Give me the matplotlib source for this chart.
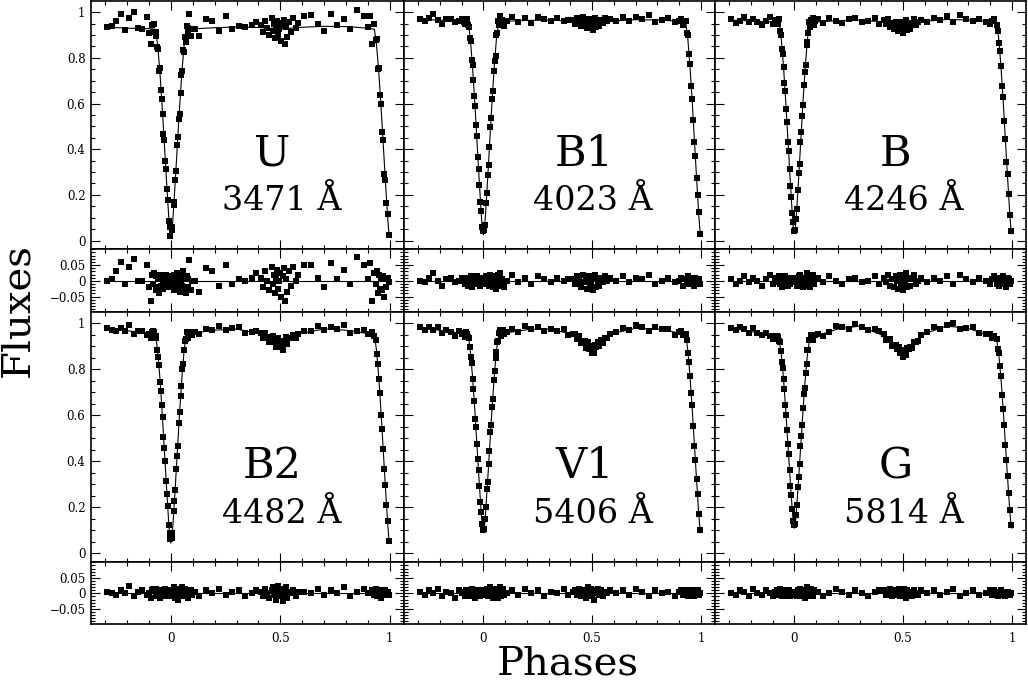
import matplotlib
matplotlib.use('Agg')
import matplotlib.pyplot as plt
from matplotlib.ticker import MultipleLocator, FixedLocator

plt.rcParams['font.family'] = ['DejaVu Serif', 'DejaVu Sans']

# observation phases (shared by all filters)
OBS_PHASE = [
    -0.29, -0.27, -0.25, -0.23, -0.21, -0.19, -0.17, -0.15, -0.13, -0.11, -0.10, -0.09, -0.085, -0.08,
    -0.075, -0.07, -0.066, -0.062, -0.058, -0.054, -0.05, -0.046, -0.042, -0.038, -0.034, -0.03, -0.026,
    -0.022, -0.018, -0.014, -0.01, -0.006, -0.003,
    0.003, 0.007, 0.012, 0.016, 0.02, 0.024, 0.028, 0.032, 0.036, 0.04, 0.044, 0.048, 0.052, 0.056, 0.06,
    0.064, 0.068, 0.072, 0.076, 0.08, 0.085, 0.09, 0.095,
    0.11, 0.13, 0.16, 0.19, 0.22, 0.25, 0.28, 0.31, 0.34, 0.37, 0.39,
    0.41, 0.42, 0.43, 0.44, 0.45, 0.46, 0.465, 0.47, 0.475, 0.48, 0.485, 0.49, 0.495, 0.50, 0.505, 0.51,
    0.515, 0.52, 0.525, 0.53, 0.54, 0.55, 0.56, 0.57, 0.58,
    0.61, 0.64, 0.67, 0.70, 0.73, 0.76, 0.79, 0.82, 0.85, 0.88, 0.90,
    0.91, 0.92, 0.93, 0.935, 0.94, 0.945, 0.95, 0.955, 0.96, 0.965, 0.97, 0.975, 0.98, 0.985, 0.99, 0.997,
]

MODEL_PHASE = [-0.30, -0.20, -0.10, -0.07, -0.06, -0.05, -0.04, -0.03, -0.02, -0.01, -0.005, 0.0,
               0.005, 0.01, 0.02, 0.03, 0.04, 0.05, 0.06, 0.07, 0.10, 0.20, 0.30, 0.40, 0.45, 0.50,
               0.55, 0.60, 0.70, 0.80, 0.90, 0.93, 0.94, 0.95, 0.96, 0.97, 0.98, 0.99, 0.995, 1.0]

BANDS = ['U', 'B1', 'B', 'B2', 'V1', 'G']
WAVELENGTHS = ['3471 Å', '4023 Å', '4246 Å', '4482 Å', '5406 Å', '5814 Å']

MODEL_U = [0.935, 0.930, 0.928, 0.925, 0.852, 0.734, 0.588, 0.425, 0.261, 0.106, 0.042, 0.015,
           0.042, 0.106, 0.261, 0.425, 0.588, 0.734, 0.852, 0.925, 0.927, 0.932, 0.935, 0.933, 0.930,
           0.926, 0.930, 0.934, 0.938, 0.937, 0.930, 0.925, 0.852, 0.734, 0.588, 0.425, 0.261, 0.106,
           0.042, 0.015]
MODEL_B1 = [0.968, 0.965, 0.960, 0.958, 0.883, 0.762, 0.613, 0.445, 0.277, 0.118, 0.053, 0.025,
            0.053, 0.118, 0.277, 0.445, 0.613, 0.762, 0.883, 0.958, 0.960, 0.964, 0.965, 0.962, 0.958,
            0.954, 0.958, 0.962, 0.967, 0.966, 0.960, 0.958, 0.883, 0.762, 0.613, 0.445, 0.277, 0.118,
            0.053, 0.025]
MODEL_B = [0.965, 0.962, 0.957, 0.955, 0.881, 0.761, 0.613, 0.446, 0.280, 0.122, 0.058, 0.030,
           0.058, 0.122, 0.280, 0.446, 0.613, 0.761, 0.881, 0.955, 0.957, 0.963, 0.965, 0.958, 0.948,
           0.938, 0.948, 0.960, 0.968, 0.966, 0.958, 0.955, 0.881, 0.761, 0.613, 0.446, 0.280, 0.122,
           0.058, 0.030]
MODEL_B2 = [0.975, 0.968, 0.955, 0.950, 0.878, 0.760, 0.615, 0.452, 0.289, 0.135, 0.072, 0.045,
            0.072, 0.135, 0.289, 0.452, 0.615, 0.760, 0.878, 0.950, 0.957, 0.970, 0.975, 0.955, 0.935,
            0.905, 0.935, 0.958, 0.975, 0.970, 0.955, 0.950, 0.878, 0.760, 0.615, 0.452, 0.289, 0.135,
            0.072, 0.045]
MODEL_V1 = [0.978, 0.970, 0.955, 0.950, 0.881, 0.769, 0.632, 0.477, 0.322, 0.176, 0.116, 0.090,
            0.116, 0.176, 0.322, 0.477, 0.632, 0.769, 0.881, 0.950, 0.958, 0.972, 0.975, 0.955, 0.925,
            0.882, 0.925, 0.957, 0.978, 0.975, 0.958, 0.952, 0.883, 0.771, 0.633, 0.478, 0.323, 0.176,
            0.116, 0.090]
MODEL_G = [0.982, 0.965, 0.942, 0.930, 0.864, 0.758, 0.627, 0.479, 0.331, 0.192, 0.135, 0.110,
           0.135, 0.192, 0.331, 0.479, 0.627, 0.758, 0.864, 0.930, 0.945, 0.975, 0.988, 0.950, 0.910,
           0.865, 0.910, 0.955, 0.988, 0.978, 0.945, 0.932, 0.866, 0.759, 0.628, 0.480, 0.332, 0.192,
           0.135, 0.110]

FLUX_U = [
    0.935, 0.939, 0.963, 0.992, 0.921, 0.975, 0.999, 0.929, 0.928, 0.978, 0.908, 0.862, 0.946, 0.915,
    0.950, 0.895, 0.913, 0.847, 0.839, 0.741, 0.754, 0.661, 0.622, 0.556, 0.465, 0.440, 0.349, 0.313,
    0.225, 0.178, 0.086, 0.060, 0.021,
    0.046, 0.058, 0.157, 0.169, 0.266, 0.306, 0.417, 0.452, 0.533, 0.553, 0.647, 0.725, 0.743, 0.835,
    0.827, 0.891, 0.870, 0.940, 0.905, 0.930, 0.991, 0.896, 0.927,
    0.928, 0.894, 0.971, 0.962, 0.918, 0.984, 0.925, 0.940, 0.934, 0.943, 0.958,
    0.942, 0.912, 0.961, 0.931, 0.900, 0.974, 0.919, 0.948, 0.888, 0.937, 0.962, 0.901, 0.926, 0.951,
    0.876, 0.941, 0.967, 0.862, 0.933, 0.893, 0.959, 0.915, 0.976, 0.932, 0.953,
    0.984, 0.986, 0.947, 0.918, 0.993, 0.943, 0.972, 0.926, 1.009, 0.982, 0.935,
    0.983, 0.861, 0.950, 0.879, 0.882, 0.753, 0.754, 0.636, 0.598, 0.476, 0.440, 0.293, 0.266, 0.163,
    0.116, 0.024,
]
RESID_U = [
    0.000, 0.005, 0.030, 0.060, -0.010, 0.045, 0.070, 0.000, 0.000, 0.050, -0.020, -0.065, 0.020, -0.010,
    0.025, -0.030, 0.015, -0.020, 0.010, -0.040, 0.020, -0.015, 0.005, 0.000, -0.025, 0.015, -0.010,
    0.020, -0.005, 0.010, -0.020, 0.005, -0.010,
    0.015, -0.010, 0.020, -0.030, 0.005, -0.020, 0.025, -0.005, 0.010, -0.035, 0.000, 0.020, -0.015,
    0.030, -0.025, 0.010, -0.040, 0.015, -0.020, 0.005, 0.065, -0.030, 0.000,
    0.000, -0.035, 0.040, 0.030, -0.015, 0.050, -0.010, 0.005, 0.000, 0.010, 0.025,
    0.010, -0.020, 0.030, 0.000, -0.030, 0.045, -0.010, 0.020, -0.040, 0.010, 0.035, -0.025, 0.000,
    0.025, -0.050, 0.015, 0.040, -0.065, 0.005, -0.035, 0.030, -0.015, 0.045, 0.000, 0.020,
    0.050, 0.050, 0.010, -0.020, 0.055, 0.005, 0.035, -0.010, 0.075, 0.050, 0.005,
    0.055, -0.065, 0.025, -0.010, 0.030, -0.040, 0.020, -0.025, 0.010, -0.030, 0.015, -0.050, 0.005,
    -0.020, 0.010, -0.005,
]

FLUX_B1 = [
    0.968, 0.962, 0.976, 0.991, 0.965, 0.949, 0.968, 0.972, 0.956, 0.960, 0.970, 0.959, 0.949, 0.963,
    0.968, 0.943, 0.935, 0.888, 0.874, 0.791, 0.767, 0.702, 0.633, 0.589, 0.507, 0.460, 0.368, 0.315,
    0.245, 0.167, 0.128, 0.061, 0.042,
    0.047, 0.069, 0.165, 0.208, 0.287, 0.329, 0.411, 0.498, 0.536, 0.618, 0.653, 0.742, 0.786, 0.810,
    0.898, 0.908, 0.963, 0.943, 0.983, 0.948, 0.964, 0.959, 0.940,
    0.960, 0.981, 0.957, 0.973, 0.954, 0.980, 0.970, 0.960, 0.974, 0.963, 0.967,
    0.966, 0.950, 0.974, 0.958, 0.938, 0.977, 0.952, 0.966, 0.931, 0.960, 0.970, 0.939, 0.954, 0.964,
    0.924, 0.959, 0.975, 0.935, 0.956, 0.941, 0.967, 0.953, 0.974, 0.960, 0.971,
    0.963, 0.980, 0.961, 0.977, 0.972, 0.987, 0.956, 0.965, 0.973, 0.956, 0.960,
    0.969, 0.943, 0.963, 0.911, 0.898, 0.818, 0.772, 0.677, 0.618, 0.529, 0.430, 0.371, 0.272, 0.198,
    0.123, 0.029,
]
RESID_B1 = [
    0.000, -0.005, 0.010, 0.025, 0.000, -0.015, 0.005, 0.010, -0.005, 0.000, 0.010, 0.000, -0.010, 0.005,
    0.010, -0.015, 0.005, -0.010, 0.015, -0.020, 0.005, 0.000, -0.010, 0.010, -0.005, 0.015, -0.010,
    0.005, 0.000, -0.015, 0.010, -0.005, 0.000,
    0.005, -0.010, 0.015, -0.005, 0.010, -0.015, 0.000, 0.020, -0.010, 0.005, -0.020, 0.010, 0.000,
    -0.025, 0.015, -0.005, 0.020, -0.015, 0.025, -0.010, 0.005, 0.000, -0.020,
    0.000, 0.020, -0.005, 0.010, -0.010, 0.015, 0.005, -0.005, 0.010, 0.000, 0.005,
    0.005, -0.010, 0.015, 0.000, -0.020, 0.020, -0.005, 0.010, -0.025, 0.005, 0.015, -0.015, 0.000,
    0.010, -0.030, 0.005, 0.020, -0.020, 0.000, -0.015, 0.010, -0.005, 0.015, 0.000, 0.010,
    0.000, 0.015, -0.005, 0.010, 0.005, 0.020, -0.010, 0.000, 0.010, -0.005, 0.000,
    0.010, -0.015, 0.005, -0.010, 0.015, -0.005, 0.010, -0.010, 0.005, 0.000, -0.015, 0.010, -0.005,
    0.000, 0.005, -0.010,
]

FLUX_B = [
    0.970, 0.954, 0.963, 0.977, 0.956, 0.970, 0.959, 0.943, 0.962, 0.977, 0.947, 0.956, 0.966, 0.950,
    0.950, 0.970, 0.917, 0.901, 0.837, 0.819, 0.761, 0.692, 0.657, 0.574, 0.518, 0.431, 0.390, 0.313,
    0.238, 0.190, 0.122, 0.081, 0.042,
    0.047, 0.094, 0.139, 0.222, 0.295, 0.336, 0.433, 0.475, 0.546, 0.593, 0.682, 0.736, 0.770, 0.858,
    0.871, 0.911, 0.955, 0.935, 0.965, 0.950, 0.976, 0.946, 0.962,
    0.968, 0.954, 0.976, 0.963, 0.954, 0.970, 0.975, 0.959, 0.962, 0.975, 0.948,
    0.967, 0.950, 0.972, 0.935, 0.953, 0.925, 0.959, 0.942, 0.916, 0.950, 0.959, 0.929, 0.943, 0.908,
    0.953, 0.939, 0.965, 0.921, 0.952, 0.928, 0.951, 0.968, 0.942, 0.955, 0.967,
    0.956, 0.974, 0.966, 0.983, 0.958, 0.988, 0.972, 0.960, 0.972, 0.959, 0.948,
    0.962, 0.971, 0.945, 0.918, 0.866, 0.831, 0.766, 0.677, 0.628, 0.524, 0.446, 0.343, 0.290, 0.206,
    0.112, 0.044,
]
RESID_B = [
    0.005, -0.010, 0.000, 0.015, -0.005, 0.010, 0.000, -0.015, 0.005, 0.020, -0.010, 0.000, 0.010, -0.005,
    -0.005, 0.015, -0.010, 0.005, -0.020, 0.010, 0.000, -0.010, 0.015, -0.005, 0.005, -0.015, 0.010,
    0.000, -0.010, 0.005, 0.000, 0.010, -0.005,
    0.000, 0.010, -0.015, 0.005, 0.015, -0.010, 0.020, -0.005, 0.000, -0.020, 0.010, 0.005, -0.015,
    0.025, -0.010, 0.000, 0.015, -0.020, 0.010, -0.005, 0.020, -0.010, 0.005,
    0.010, -0.005, 0.015, 0.000, -0.010, 0.005, 0.010, -0.005, 0.000, 0.015, -0.010,
    0.010, -0.005, 0.020, -0.015, 0.005, -0.020, 0.015, 0.000, -0.025, 0.010, 0.020, -0.010, 0.005,
    -0.030, 0.015, 0.000, 0.025, -0.020, 0.010, -0.015, 0.005, 0.020, -0.010, 0.000, 0.010,
    -0.005, 0.010, 0.000, 0.015, -0.010, 0.020, 0.005, -0.005, 0.010, 0.000, -0.010,
    0.005, 0.015, -0.010, 0.000, -0.015, 0.010, 0.005, -0.010, 0.015, -0.005, 0.000, -0.020, 0.010,
    0.005, -0.010, 0.000,
]

FLUX_B2 = [
    0.979, 0.972, 0.966, 0.979, 0.968, 0.991, 0.953, 0.966, 0.968, 0.951, 0.955, 0.938, 0.962, 0.965,
    0.960, 0.945, 0.938, 0.882, 0.854, 0.817, 0.745, 0.707, 0.644, 0.593, 0.507, 0.457, 0.402, 0.317,
    0.259, 0.207, 0.125, 0.090, 0.061,
    0.066, 0.087, 0.186, 0.228, 0.274, 0.365, 0.425, 0.465, 0.565, 0.615, 0.683, 0.726, 0.803, 0.821,
    0.883, 0.922, 0.931, 0.961, 0.936, 0.957, 0.953, 0.964, 0.950,
    0.963, 0.952, 0.976, 0.969, 0.987, 0.969, 0.980, 0.983, 0.958, 0.963, 0.968,
    0.956, 0.937, 0.958, 0.939, 0.920, 0.939, 0.946, 0.918, 0.930, 0.897, 0.919, 0.936, 0.898, 0.905,
    0.923, 0.886, 0.924, 0.912, 0.940, 0.908, 0.934, 0.935, 0.950, 0.934, 0.954,
    0.967, 0.968, 0.987, 0.970, 0.984, 0.973, 0.991, 0.958, 0.968, 0.972, 0.955,
    0.953, 0.961, 0.945, 0.929, 0.868, 0.824, 0.760, 0.698, 0.600, 0.539, 0.452, 0.366, 0.299, 0.212,
    0.140, 0.054,
]
RESID_B2 = [
    0.005, 0.000, -0.005, 0.010, 0.000, 0.025, -0.010, 0.005, 0.010, -0.005, 0.000, -0.015, 0.010, 0.015,
    0.010, -0.005, 0.015, -0.010, 0.000, 0.010, -0.015, 0.005, 0.000, 0.010, -0.010, 0.005, 0.015,
    -0.005, 0.000, 0.010, -0.010, 0.005, 0.000,
    0.005, -0.010, 0.020, 0.000, -0.015, 0.010, 0.005, -0.020, 0.015, 0.000, 0.010, -0.005, 0.020,
    -0.010, 0.005, 0.015, -0.005, 0.010, -0.015, 0.005, 0.000, 0.010, -0.005,
    0.005, -0.010, 0.010, 0.000, 0.015, -0.005, 0.005, 0.010, -0.010, 0.000, 0.010,
    0.005, -0.010, 0.015, 0.000, -0.015, 0.010, 0.020, -0.005, 0.010, -0.020, 0.005, 0.025, -0.010,
    0.000, 0.015, -0.025, 0.010, -0.005, 0.020, -0.015, 0.005, 0.000, 0.010, -0.010, 0.005,
    0.005, 0.000, 0.015, -0.005, 0.010, 0.000, 0.020, -0.010, 0.005, 0.015, 0.000,
    0.000, 0.010, -0.005, 0.015, -0.010, 0.005, 0.000, 0.010, -0.015, 0.005, 0.000, -0.005, 0.010,
    0.000, 0.005, -0.005,
]

FLUX_V1 = [
    0.982, 0.970, 0.983, 0.971, 0.984, 0.957, 0.969, 0.961, 0.943, 0.966, 0.955, 0.958, 0.942, 0.960,
    0.955, 0.940, 0.934, 0.895, 0.854, 0.829, 0.759, 0.714, 0.664, 0.586, 0.549, 0.477, 0.410, 0.363,
    0.293, 0.224, 0.181, 0.128, 0.100,
    0.105, 0.150, 0.200, 0.279, 0.312, 0.389, 0.446, 0.528, 0.560, 0.637, 0.672, 0.752, 0.792, 0.851,
    0.876, 0.919, 0.921, 0.956, 0.972, 0.943, 0.954, 0.970, 0.952,
    0.960, 0.975, 0.964, 0.987, 0.974, 0.985, 0.965, 0.977, 0.966, 0.975, 0.950,
    0.954, 0.953, 0.932, 0.946, 0.915, 0.917, 0.922, 0.892, 0.908, 0.919, 0.889, 0.890, 0.901, 0.872,
    0.891, 0.870, 0.904, 0.899, 0.918, 0.902, 0.926, 0.915, 0.937, 0.938, 0.954,
    0.962, 0.980, 0.971, 0.993, 0.983, 0.967, 0.986, 0.973, 0.973, 0.951, 0.963,
    0.966, 0.949, 0.952, 0.928, 0.873, 0.832, 0.771, 0.697, 0.643, 0.555, 0.468, 0.405, 0.323, 0.259,
    0.171, 0.103,
]
RESID_V1 = [
    0.005, -0.005, 0.010, 0.000, 0.015, -0.010, 0.005, 0.000, -0.015, 0.010, 0.000, 0.005, -0.010, 0.010,
    0.005, -0.010, 0.010, 0.000, -0.005, 0.015, -0.010, 0.000, 0.005, -0.015, 0.010, 0.000, -0.005,
    0.010, 0.000, -0.010, 0.005, 0.000, -0.005,
    0.000, 0.010, -0.005, 0.015, -0.010, 0.005, 0.000, 0.020, -0.010, 0.005, -0.015, 0.010, 0.000,
    0.015, -0.005, 0.010, -0.015, 0.005, 0.020, -0.010, 0.000, 0.015, -0.005,
    0.000, 0.010, -0.005, 0.015, 0.000, 0.010, -0.010, 0.005, 0.000, 0.015, -0.005,
    0.005, 0.010, -0.005, 0.015, -0.010, 0.000, 0.010, -0.015, 0.005, 0.020, -0.005, 0.000, 0.015,
    -0.010, 0.005, -0.020, 0.010, 0.000, 0.015, -0.005, 0.010, -0.010, 0.005, 0.000, 0.010,
    0.000, 0.010, -0.005, 0.015, 0.005, -0.010, 0.010, 0.000, 0.005, -0.010, 0.005,
    0.010, -0.005, 0.000, 0.010, -0.010, 0.005, 0.000, -0.005, 0.010, 0.000, -0.010, 0.005, 0.000,
    0.010, -0.005, 0.000,
]

FLUX_G = [
    0.980, 0.972, 0.984, 0.975, 0.957, 0.978, 0.958, 0.949, 0.959, 0.944, 0.932, 0.943, 0.931, 0.944,
    0.940, 0.925, 0.920, 0.878, 0.833, 0.805, 0.758, 0.715, 0.643, 0.602, 0.538, 0.474, 0.430, 0.361,
    0.294, 0.253, 0.192, 0.141, 0.125,
    0.127, 0.165, 0.212, 0.288, 0.333, 0.387, 0.466, 0.511, 0.560, 0.634, 0.691, 0.719, 0.786, 0.824,
    0.886, 0.883, 0.929, 0.927, 0.948, 0.935, 0.927, 0.950, 0.947,
    0.953, 0.944, 0.963, 0.987, 0.983, 0.977, 0.995, 0.986, 0.970, 0.975, 0.968,
    0.952, 0.929, 0.926, 0.933, 0.900, 0.906, 0.907, 0.887, 0.888, 0.898, 0.869, 0.879, 0.870, 0.855,
    0.885, 0.874, 0.864, 0.893, 0.888, 0.897, 0.891, 0.920, 0.919, 0.923, 0.947,
    0.960, 0.982, 0.977, 0.993, 1.002, 0.974, 0.980, 0.982, 0.957, 0.952, 0.955,
    0.936, 0.946, 0.932, 0.889, 0.871, 0.813, 0.769, 0.689, 0.628, 0.559, 0.470, 0.406, 0.337, 0.262,
    0.187, 0.122,
]
RESID_G = [
    0.000, -0.005, 0.010, 0.005, -0.010, 0.015, 0.000, -0.005, 0.010, 0.000, -0.010, 0.005, -0.005, 0.010,
    0.010, -0.005, 0.015, 0.000, -0.010, 0.005, 0.000, 0.010, -0.010, 0.005, 0.000, -0.005, 0.010,
    0.000, -0.010, 0.005, 0.000, -0.005, 0.000,
    0.000, 0.005, -0.010, 0.010, 0.000, -0.005, 0.015, 0.000, -0.010, 0.005, 0.010, -0.015, 0.005,
    0.000, 0.020, -0.010, 0.010, -0.005, 0.015, 0.000, -0.010, 0.010, 0.005,
    0.005, -0.010, 0.000, 0.015, 0.005, -0.005, 0.010, 0.000, -0.010, 0.005, 0.010,
    0.010, -0.005, 0.000, 0.015, -0.010, 0.005, 0.010, -0.005, 0.000, 0.015, -0.010, 0.005, 0.000,
    -0.010, 0.015, 0.000, -0.015, 0.010, 0.000, 0.005, -0.010, 0.010, 0.000, -0.005, 0.010,
    0.000, 0.010, -0.005, 0.005, 0.015, -0.010, 0.000, 0.010, -0.005, 0.000, 0.010,
    -0.005, 0.010, 0.000, -0.010, 0.005, 0.000, 0.010, -0.005, 0.000, 0.005, -0.010, 0.000, 0.005,
    0.000, -0.005, 0.000,
]

FLUXES = [FLUX_U, FLUX_B1, FLUX_B, FLUX_B2, FLUX_V1, FLUX_G]
RESIDS = [RESID_U, RESID_B1, RESID_B, RESID_B2, RESID_V1, RESID_G]
MODELS = [MODEL_U, MODEL_B1, MODEL_B, MODEL_B2, MODEL_V1, MODEL_G]

W, H = 1028.0, 681.0
col_x = [91, 404, 715]
col_w = [313, 311, 311]
# (top of flux panel, flux/residual border, bottom of residual panel) in pixels
row_y = [(1, 249, 312), (312, 562, 624)]


def style(ax):
    for sp in ax.spines.values():
        sp.set_linewidth(1.2)
    ax.tick_params(which='both', direction='in', top=True, right=True, width=0.8)
    ax.tick_params(which='major', length=6.5, labelsize=8.5, pad=4)
    ax.tick_params(which='minor', length=3.2)
    ax.set_xlim(-0.365, 1.065)
    ax.xaxis.set_major_locator(FixedLocator([0, 0.5, 1]))
    ax.xaxis.set_minor_locator(MultipleLocator(0.1))


fig = plt.figure(figsize=(W / 100, H / 100), dpi=100)

for i in range(6):
    r, c = divmod(i, 3)
    y0, y1, y2 = row_y[r]
    left = col_x[c] / W
    width = col_w[c] / W

    ax = fig.add_axes([left, 1 - y1 / H, width, (y1 - y0) / H])
    res = fig.add_axes([left, 1 - y2 / H, width, (y2 - y1) / H])

    ax.plot(MODEL_PHASE, MODELS[i], color='k', lw=0.8)
    ax.plot(OBS_PHASE, FLUXES[i], 's', color='k', ms=4.2, mew=0)
    style(ax)
    ax.set_ylim(-0.037, 1.049)
    ax.yaxis.set_major_locator(FixedLocator([0, 0.2, 0.4, 0.6, 0.8, 1]))
    ax.yaxis.set_minor_locator(MultipleLocator(0.05))
    ax.set_yticklabels(['0', '0.2', '0.4', '0.6', '0.8', '1'])
    ax.tick_params(labelbottom=False, labelleft=(c == 0))

    ax.text(0.58, 0.335, BANDS[i], transform=ax.transAxes, ha='center', va='baseline',
            fontsize=31)
    ax.text(0.80, 0.157, WAVELENGTHS[i], transform=ax.transAxes, ha='right', va='baseline',
            fontsize=24)

    res.plot([MODEL_PHASE[0], MODEL_PHASE[-1]], [0, 0], color='k', lw=0.8)
    res.plot(OBS_PHASE, RESIDS[i], 's', color='k', ms=4.2, mew=0)
    style(res)
    res.set_ylim(-0.099, 0.101)
    res.yaxis.set_major_locator(FixedLocator([-0.05, 0, 0.05]))
    res.yaxis.set_minor_locator(MultipleLocator(0.01))
    res.set_yticklabels(['\u22120.05', '0', '0.05'])
    res.set_xticklabels(['0', '0.5', '1'])
    res.tick_params(labelbottom=(r == 1), labelleft=(c == 0))
    res.tick_params(axis='x', pad=6)

fig.text(18 / W, 1 - 310 / H, 'Fluxes', rotation=90, ha='center', va='center', fontsize=29)
fig.text(568 / W, 1 - 664 / H, 'Phases', ha='center', va='center', fontsize=29)

fig.savefig('out.png', dpi=100)
